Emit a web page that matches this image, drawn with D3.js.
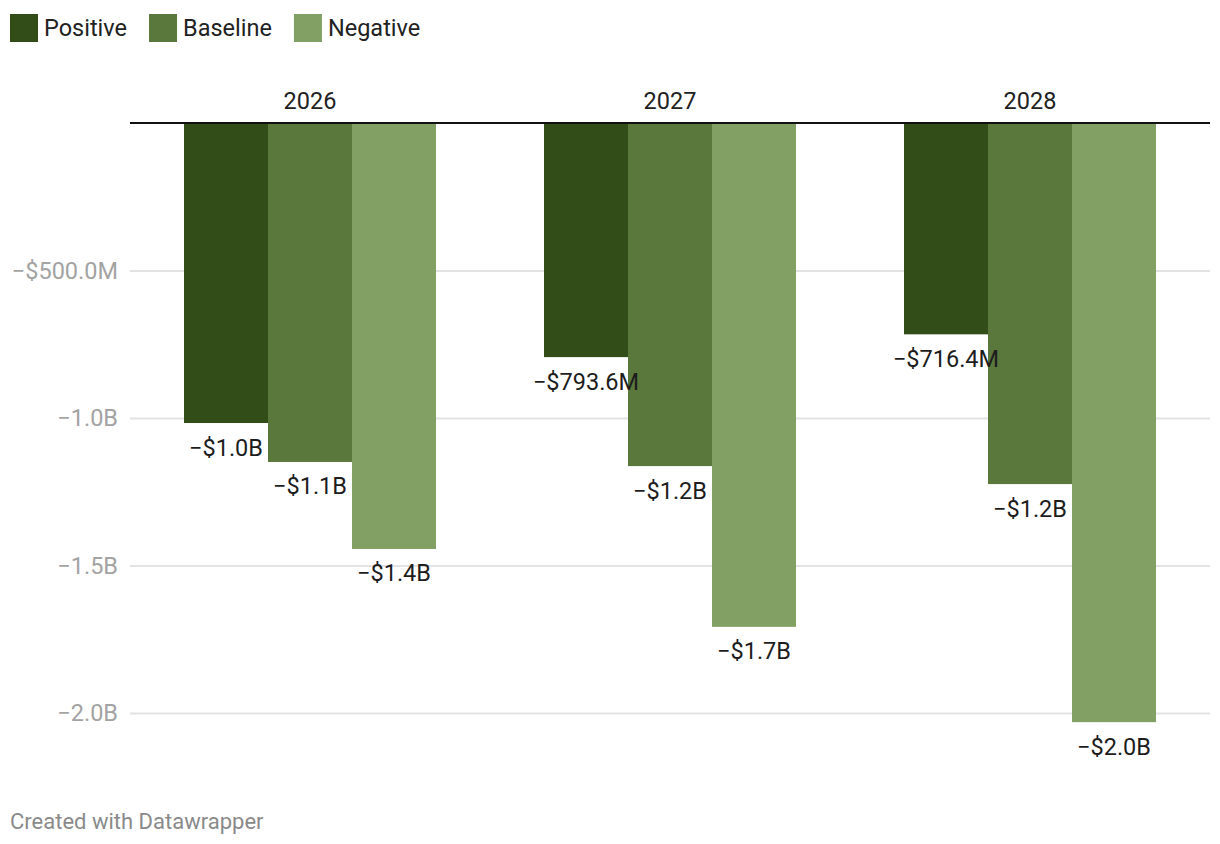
<!DOCTYPE html>
<html>
<head>
<meta charset="utf-8">
<script src="https://cdn.jsdelivr.net/npm/d3@7"></script>
<style>
  body { margin: 0; background: #fff; font-family: Roboto, sans-serif; }
  svg text { font-family: Roboto, sans-serif; }
</style>
</head>
<body>
<div id="chart"></div>
<script>
// data
var years = ['2026', '2027', '2028'];
var series = ['Positive', 'Baseline', 'Negative'];
var positive = [-1017e6, -793.6e6, -716.4e6];
var baseline = [-1149e6, -1163e6, -1224e6];
var negative = [-1444e6, -1708e6, -2031e6];
var yTicks = [-500e6, -1000e6, -1500e6, -2000e6];
var colors = ['#324d17', '#5a773c', '#83a064'];

var values = { Positive: positive, Baseline: baseline, Negative: negative };

var width = 1220;
var height = 844;

var svg = d3.select('#chart').append('svg')
  .attr('width', width)
  .attr('height', height);

function fmtTick(v) {
  var a = Math.abs(v);
  if (a >= 1e9) return '\u2212' + (a / 1e9).toFixed(1) + 'B';
  return '\u2212$' + (a / 1e6).toFixed(1) + 'M';
}
function fmtLabel(v) {
  var a = Math.abs(v);
  if (a >= 1e9) return '\u2212$' + (a / 1e9).toFixed(1) + 'B';
  return '\u2212$' + (a / 1e6).toFixed(1) + 'M';
}

var x0 = d3.scaleBand()
  .domain(years)
  .range([130, 1210]);

var x1 = d3.scaleBand()
  .domain(series)
  .range([0, x0.bandwidth()])
  .paddingInner(0)
  .paddingOuter(54 / 84);

var y = d3.scaleLinear()
  .domain([-2000e6, 0])
  .range([713, 123]);

var color = d3.scaleOrdinal().domain(series).range(colors);

// legend
var lx = 10;
var legend = svg.append('g');
series.forEach(function (s) {
  legend.append('rect')
    .attr('x', lx).attr('y', 14)
    .attr('width', 28).attr('height', 28)
    .attr('fill', color(s));
  var t = legend.append('text')
    .attr('x', lx + 34).attr('y', 36)
    .attr('font-size', 23.5)
    .attr('fill', '#222')
    .text(s);
  lx += 34 + t.node().getComputedTextLength() + 22;
});

// gridlines + y labels
var yAxis = d3.axisLeft(y)
  .tickValues(yTicks)
  .tickSize(0)
  .tickPadding(12)
  .tickFormat(fmtTick);

var gy = svg.append('g')
  .attr('transform', 'translate(130,0)')
  .call(yAxis);
gy.select('.domain').remove();
gy.selectAll('text')
  .attr('font-size', 23.5)
  .attr('fill', '#a3a3a3');
gy.selectAll('.tick line')
  .attr('x2', 1080)
  .attr('stroke', '#e3e3e3')
  .attr('stroke-width', 2);

// bars
var groups = svg.selectAll('.grp')
  .data(years)
  .enter().append('g')
  .attr('class', 'grp')
  .attr('transform', function (d) { return 'translate(' + x0(d) + ',0)'; });

groups.selectAll('rect')
  .data(function (d, i) { return series.map(function (s) { return { s: s, v: values[s][i] }; }); })
  .enter().append('rect')
  .attr('x', function (d) { return x1(d.s); })
  .attr('width', x1.bandwidth())
  .attr('y', y(0))
  .attr('height', function (d) { return y(d.v) - y(0); })
  .attr('fill', function (d) { return color(d.s); });

groups.selectAll('.val')
  .data(function (d, i) { return series.map(function (s) { return { s: s, v: values[s][i] }; }); })
  .enter().append('text')
  .attr('class', 'val')
  .attr('x', function (d) { return x1(d.s) + x1.bandwidth() / 2; })
  .attr('y', function (d) { return y(d.v) + 32.5; })
  .attr('text-anchor', 'middle')
  .attr('font-size', 23.5)
  .attr('fill', '#1d1d1d')
  .text(function (d) { return fmtLabel(d.v); });

// year labels
groups.append('text')
  .attr('x', x0.bandwidth() / 2)
  .attr('y', 109)
  .attr('text-anchor', 'middle')
  .attr('font-size', 23.5)
  .attr('fill', '#222')
  .text(function (d) { return d; });

// zero line
svg.append('line')
  .attr('x1', 130).attr('x2', 1210)
  .attr('y1', y(0)).attr('y2', y(0))
  .attr('stroke', '#111')
  .attr('stroke-width', 2);

// footer
svg.append('text')
  .attr('x', 10).attr('y', 829)
  .attr('font-size', 22)
  .attr('fill', '#8a8a8a')
  .text('Created with Datawrapper');
</script>
</body>
</html>
